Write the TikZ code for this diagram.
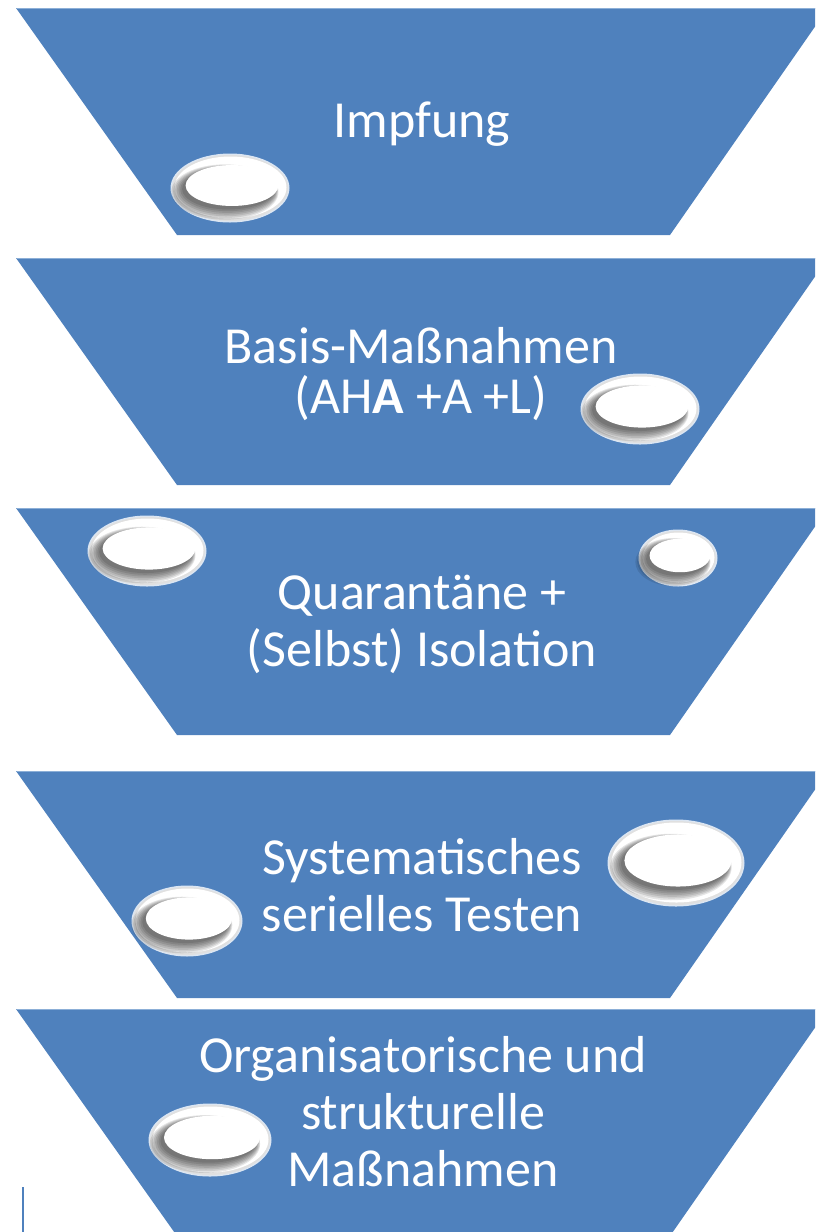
\documentclass[tikz,border=0pt]{standalone}
\usepackage{fontspec}
\setmainfont{Carlito}
\usepackage{tikz}
\definecolor{layerblue}{RGB}{79,129,189}
\definecolor{rimblue}{RGB}{140,175,215}
\tikzset{layer/.style = {fill=layerblue}}
\tikzset{layertext/.style = {text=white, align=center, inner sep=0, font=\fontsize{52}{57}\selectfont}}
\tikzset{holeshadow/.style = {fill=black, opacity=0.1}}
\newcommand{\cheesehole}[4]{%
  \fill [white!80!layerblue] (#1,#2) ellipse [x radius=#3pt+1.5pt, y radius=#4pt+1.5pt];
  \fill [black!12] (#1,#2) ellipse [x radius=#3pt, y radius=#4pt];
  \fill [white] (#1+0.5,#2-0.5) ellipse [x radius=#3pt-2pt, y radius=#4pt-2pt];
  \foreach \k in {0,...,6}
    \fill [holeshadow] (#1-1.5-0.6*\k,#2+1+0.5*\k) ellipse [x radius=0.8*#3pt+1.2*\k pt, y radius=0.62*#4pt+1.2*\k pt];
  \fill [white] (#1+2,#2-2.5) ellipse [x radius=0.8*#3pt, y radius=0.62*#4pt];
}

\begin{document}
\begin{tikzpicture}[x=1pt,y=-1pt]
        \useasboundingbox (0,0) rectangle (815,1232);
        \clip (0,0) rectangle (815,1232);
        \foreach \t in {8,258,508,771,1009} {
            \fill [layer] (16,\t) -- (828,\t) -- (670,\t+227) -- (177,\t+227) -- cycle;
            \draw [rimblue, line width=1.2] (17,\t+0.6) -- (827,\t+0.6);
        }
        \draw [layerblue, line width=1.5] (23,1187) -- (23,1232);
        \cheesehole{230}{188}{58}{33}
        \cheesehole{640}{409}{58}{34}
        \cheesehole{147}{551}{58}{34}
        \cheesehole{678}{558}{38}{27}
        \cheesehole{676}{863}{67}{42}
        \cheesehole{187}{921}{54}{34}
        \cheesehole{210}{1140}{60}{35}
        \node [layertext] (impfung) at (422,124) {Impfung};
        \node [layertext, font=\fontsize{52}{50}\selectfont] (basis) at (421,374) {Basis-Maßnahmen\\(AH{\bfseries A} +A +L)};
        \node [layertext] (quarantaene) at (422,624) {Quarantäne +\\(Selbst) Isolation};
        \node [layertext] (testen) at (422,885) {Systematisches\\serielles Testen};
        \node [layertext] (struktur) at (423,1112) {Organisatorische und\\strukturelle\\Maßnahmen};
    \end{tikzpicture}
\end{document}
